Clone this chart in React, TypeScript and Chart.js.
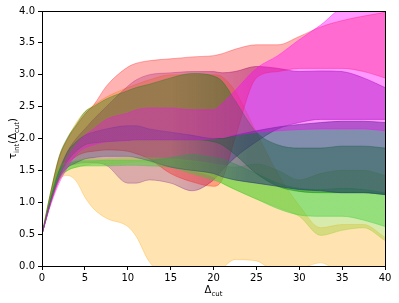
import React, { useEffect, useRef } from "react";
import { Chart, registerables } from "chart.js";

Chart.register(...registerables);

const X = [0, 1, 2, 3, 4, 5, 6, 7.5, 10, 11, 12.5, 15, 17.5, 20, 21, 22.5, 25, 27.5, 30, 32.5, 35, 37.5, 40];

const orangeUpper = [0.5, 1.15, 1.7, 2.0, 2.25, 2.42, 2.52, 2.65, 2.8, 2.85, 2.92, 3.0, 3.0, 3.0, 2.97, 2.75, 2.1, 1.45, 0.95, 0.6, 0.65, 0.65, 0.45];
const orangeLower = [0.5, 1.02, 1.35, 1.42, 1.33, 1.08, 0.9, 0.75, 0.62, 0.46, 0.07, -0.2, -0.2, -0.2, -0.05, 0.1, 0.08, -0.1, -0.05, 0.05, -0.1, -0.1, -0.1];

const purpleUpper = [0.5, 1.0, 1.45, 1.8, 2.0, 2.15, 2.3, 2.5, 2.82, 2.92, 3.0, 3.03, 3.05, 3.05, 3.03, 3.05, 3.13, 3.1, 3.05, 3.06, 3.05, 2.95, 2.8];
const purpleLower = [0.5, 0.98, 1.35, 1.55, 1.6, 1.62, 1.62, 1.58, 1.3, 1.3, 1.35, 1.3, 1.18, 1.35, 1.5, 1.7, 1.95, 2.15, 2.25, 2.3, 2.3, 2.3, 2.3];

const redUpper = [0.5, 1.15, 1.7, 2.0, 2.2, 2.38, 2.52, 2.82, 3.12, 3.18, 3.22, 3.25, 3.28, 3.3, 3.33, 3.4, 3.47, 3.47, 3.6, 3.75, 3.85, 3.92, 3.98];
const redLower = [0.5, 0.98, 1.35, 1.6, 1.72, 1.78, 1.8, 1.82, 1.8, 1.76, 1.68, 1.45, 1.32, 1.25, 1.35, 2.0, 2.95, 3.05, 3.1, 3.1, 3.1, 3.05, 2.95];

const yellowgreenUpper = [0.5, 1.1, 1.55, 1.62, 1.66, 1.68, 1.68, 1.68, 1.7, 1.7, 1.7, 1.68, 1.65, 1.6, 1.58, 1.55, 1.6, 1.5, 1.35, 1.45, 1.5, 1.5, 1.42];
const yellowgreenLower = [0.5, 1.0, 1.35, 1.5, 1.55, 1.58, 1.6, 1.6, 1.62, 1.63, 1.62, 1.58, 1.5, 1.4, 1.3, 1.2, 1.05, 0.92, 0.78, 0.48, 0.56, 0.6, 0.4];

const limeUpper = [0.5, 1.08, 1.5, 1.6, 1.64, 1.65, 1.65, 1.66, 1.66, 1.66, 1.66, 1.7, 1.75, 1.7, 1.68, 1.6, 1.45, 1.3, 1.22, 1.2, 1.22, 1.2, 1.15];
const limeLower = [0.5, 1.0, 1.38, 1.5, 1.55, 1.57, 1.57, 1.57, 1.58, 1.58, 1.57, 1.55, 1.45, 1.35, 1.3, 1.2, 1.05, 0.9, 0.8, 0.78, 0.78, 0.72, 0.62];

const greenUpper = [0.5, 1.15, 1.72, 2.02, 2.22, 2.42, 2.5, 2.62, 2.75, 2.8, 2.85, 2.95, 3.02, 2.98, 2.9, 2.6, 2.1, 1.9, 1.85, 1.85, 1.88, 1.88, 1.85];
const greenLower = [0.5, 1.0, 1.4, 1.65, 1.8, 1.9, 1.93, 1.95, 1.97, 1.98, 1.98, 1.98, 1.98, 1.95, 1.9, 1.75, 1.45, 1.25, 1.17, 1.15, 1.15, 1.15, 1.12];

const blueUpper = [0.5, 1.05, 1.5, 1.8, 1.95, 2.05, 2.1, 2.15, 2.2, 2.2, 2.15, 2.1, 2.05, 2.0, 2.0, 2.05, 2.12, 2.18, 2.22, 2.25, 2.27, 2.27, 2.25];
const blueLower = [0.5, 1.0, 1.38, 1.55, 1.62, 1.68, 1.7, 1.72, 1.72, 1.7, 1.65, 1.55, 1.5, 1.45, 1.4, 1.35, 1.3, 1.25, 1.2, 1.18, 1.15, 1.15, 1.12];

const magentaUpper = [0.5, 1.0, 1.4, 1.7, 1.9, 2.05, 2.15, 2.3, 2.4, 2.45, 2.48, 2.48, 2.45, 2.45, 2.55, 2.75, 3.1, 3.3, 3.55, 3.78, 4.05, 4.1, 4.05];
const magentaLower = [0.5, 0.95, 1.3, 1.55, 1.75, 1.85, 1.9, 1.95, 1.97, 1.98, 1.98, 1.98, 1.98, 2.0, 2.02, 2.05, 2.1, 2.12, 2.14, 2.15, 2.15, 2.15, 2.12];

const xTicks = [0, 5, 10, 15, 20, 25, 30, 35, 40];
const yTicks = [0, 0.5, 1, 1.5, 2, 2.5, 3, 3.5, 4];

// a0: opacity on the left part, a1: opacity on the right part
const bands = [
  { name: "orange", upper: orangeUpper, lower: orangeLower, rgb: "255,165,0", a0: 0.3, a1: 0.3 },
  { name: "purple", upper: purpleUpper, lower: purpleLower, rgb: "110,0,140", a0: 0.25, a1: 0.42 },
  { name: "red", upper: redUpper, lower: redLower, rgb: "255,0,0", a0: 0.3, a1: 0.3 },
  { name: "yellowgreen", upper: yellowgreenUpper, lower: yellowgreenLower, rgb: "154,205,50", a0: 0.4, a1: 0.4 },
  { name: "limegreen", upper: limeUpper, lower: limeLower, rgb: "50,205,50", a0: 0.4, a1: 0.4 },
  { name: "green", upper: greenUpper, lower: greenLower, rgb: "0,128,0", a0: 0.33, a1: 0.42 },
  { name: "blue", upper: blueUpper, lower: blueLower, rgb: "40,60,115", a0: 0.3, a1: 0.58 },
  { name: "magenta", upper: magentaUpper, lower: magentaLower, rgb: "255,0,255", a0: 0.32, a1: 0.4 },
];

const FONT = "'DejaVu Sans', sans-serif";

function drawSub(ctx: CanvasRenderingContext2D, parts: [string, boolean][], x: number, y: number) {
  let total = 0;
  for (const [t, sub] of parts) {
    ctx.font = `${sub ? 7 : 10}px ${FONT}`;
    total += ctx.measureText(t).width;
  }
  let cx = x - total / 2;
  for (const [t, sub] of parts) {
    ctx.font = `${sub ? 7 : 10}px ${FONT}`;
    ctx.fillText(t, cx, sub ? y + 3 : y);
    cx += ctx.measureText(t).width;
  }
}

const framePlugin = {
  id: "frame",
  afterDraw(chart: any) {
    const { ctx, chartArea } = chart;
    ctx.save();
    ctx.strokeStyle = "#000";
    ctx.lineWidth = 1;
    ctx.strokeRect(chartArea.left + 0.5, chartArea.top + 0.5, chartArea.right - chartArea.left, chartArea.bottom - chartArea.top);
    ctx.fillStyle = "#000";
    ctx.textBaseline = "alphabetic";
    ctx.textAlign = "left";
    drawSub(ctx, [["Δ", false], ["cut", true]], (chartArea.left + chartArea.right) / 2, 293);
    ctx.translate(16, (chartArea.top + chartArea.bottom) / 2);
    ctx.rotate(-Math.PI / 2);
    drawSub(ctx, [["τ", false], ["int", true], ["(Δ", false], ["cut", true], [")", false]], 0, 0);
    ctx.restore();
  },
};

function gradientColor(rgb: string, a0: number, a1: number) {
  return (c: any) => {
    const chart = c.chart;
    const area = chart.chartArea;
    if (!area) return `rgba(${rgb},${a0})`;
    const g = chart.ctx.createLinearGradient(area.left, 0, area.right, 0);
    g.addColorStop(0, `rgba(${rgb},${a0})`);
    g.addColorStop(0.375, `rgba(${rgb},${a0})`);
    g.addColorStop(0.6, `rgba(${rgb},${a1})`);
    g.addColorStop(1, `rgba(${rgb},${a1})`);
    return g;
  };
}

export default function App() {
  const ref = useRef<HTMLCanvasElement>(null);
  useEffect(() => {
    document.body.style.margin = "0";
    const datasets: any[] = [];
    bands.forEach((b) => {
      const col = gradientColor(b.rgb, b.a0, b.a1);
      datasets.push({
        label: b.name + " lower",
        data: X.map((x, i) => ({ x, y: b.lower[i] })),
        borderColor: col,
        borderWidth: 1,
        pointRadius: 0,
        fill: false,
        cubicInterpolationMode: "monotone",
      });
      datasets.push({
        label: b.name + " upper",
        data: X.map((x, i) => ({ x, y: b.upper[i] })),
        borderColor: col,
        backgroundColor: col,
        borderWidth: 1,
        pointRadius: 0,
        fill: "-1",
        cubicInterpolationMode: "monotone",
      });
    });
    datasets.forEach((d, i) => (d.order = datasets.length - i));
    const chart = new Chart(ref.current!, {
      type: "line",
      data: { datasets },
      options: {
        animation: false,
        responsive: false,
        maintainAspectRatio: false,
        layout: { padding: { top: 11, right: 14, left: 0, bottom: 0 } },
        plugins: { legend: { display: false }, tooltip: { enabled: false }, filler: { propagate: false } },
        scales: {
          x: {
            type: "linear",
            min: 0,
            max: 40,
            afterBuildTicks: (s: any) => { s.ticks = xTicks.map((v) => ({ value: v })); },
            afterFit: (s: any) => { s.height = 37; },
            grid: { display: true, drawOnChartArea: false, drawTicks: true, tickLength: 4, color: "#000" },
            border: { display: true, color: "#000" },
            ticks: { color: "#000", font: { family: FONT, size: 10 }, padding: 2, maxRotation: 0, callback: (v: any) => String(v) },
          },
          y: {
            type: "linear",
            min: 0,
            max: 4,
            afterBuildTicks: (s: any) => { s.ticks = yTicks.map((v) => ({ value: v })); },
            afterFit: (s: any) => { s.width = 42; },
            grid: { display: true, drawOnChartArea: false, drawTicks: true, tickLength: 4, color: "#000" },
            border: { display: true, color: "#000" },
            ticks: { color: "#000", font: { family: FONT, size: 10 }, padding: 3, callback: (v: any) => Number(v).toFixed(1) },
          },
        },
      },
      plugins: [framePlugin],
    });
    return () => chart.destroy();
  }, []);
  return (
    <div style={{ position: "fixed", left: 0, top: 0, width: 399, height: 303 }}>
      <canvas ref={ref} width={399} height={303} style={{ width: 399, height: 303 }} />
    </div>
  );
}
